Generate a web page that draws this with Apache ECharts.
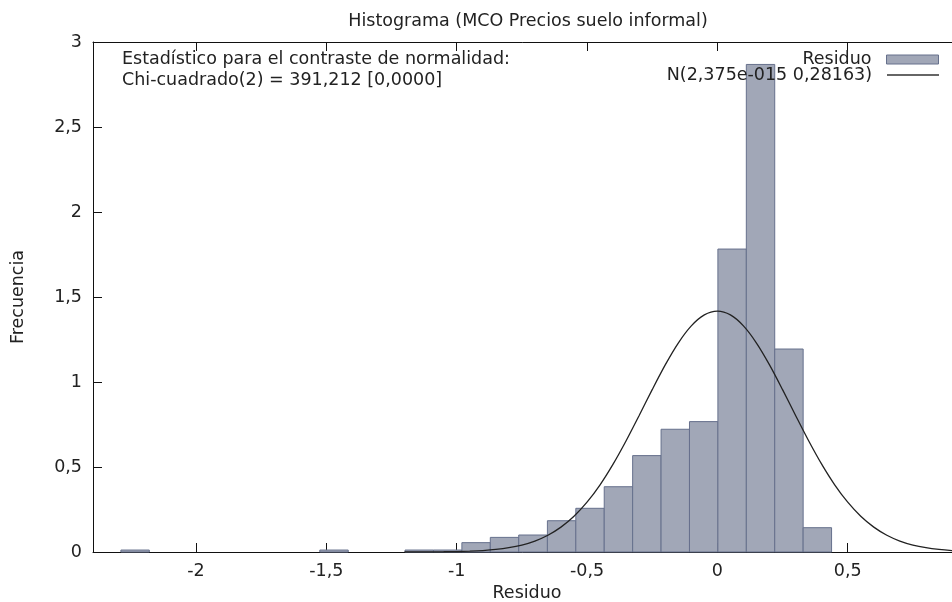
<!DOCTYPE html>
<html>
<head>
<meta charset="utf-8">
<script src="https://cdn.jsdelivr.net/npm/echarts@6/dist/echarts.min.js"></script>
<style>html,body{margin:0;padding:0;background:#fff;}#c{width:952px;height:602px;}</style>
</head>
<body>
<div id="c"></div>
<script>
// ---- Data ----
const binLeft = [-2.288,-2.179,-2.070,-1.961,-1.852,-1.743,-1.634,-1.525,-1.416,-1.307,-1.198,-1.089,-0.980,-0.871,-0.762,-0.652,-0.543,-0.434,-0.325,-0.216,-0.107,0.002,0.111,0.220,0.329];
const binRight = [-2.179,-2.070,-1.961,-1.852,-1.743,-1.634,-1.525,-1.416,-1.307,-1.198,-1.089,-0.980,-0.871,-0.762,-0.652,-0.543,-0.434,-0.325,-0.216,-0.107,0.002,0.111,0.220,0.329,0.438];
const freq = [0.0115,0,0,0,0,0,0,0.0115,0,0,0.0115,0.0115,0.055,0.086,0.100,0.184,0.257,0.384,0.567,0.722,0.767,1.782,2.868,1.194,0.143];
const curveX = [-1.2,-1.15,-1.1,-1.05,-1,-0.95,-0.9,-0.85,-0.8,-0.75,-0.7,-0.65,-0.6,-0.55,-0.5,-0.45,-0.4,-0.35,-0.3,-0.25,-0.2,-0.15,-0.1,-0.05,0,0.05,0.1,0.15,0.2,0.25,0.3,0.35,0.4,0.45,0.5,0.55,0.6,0.65,0.7,0.75,0.8,0.85,0.9,0.95];
const curveY = [0.0002,0.0003,0.0007,0.0014,0.0026,0.0048,0.0086,0.0149,0.0251,0.0409,0.0646,0.0988,0.1464,0.2104,0.2930,0.3952,0.5167,0.6544,0.8033,0.9553,1.1009,1.2293,1.3301,1.3945,1.4166,1.3945,1.3301,1.2293,1.1009,0.9553,0.8033,0.6544,0.5167,0.3952,0.2930,0.2104,0.1464,0.0988,0.0646,0.0409,0.0251,0.0149,0.0086,0.0048];
const xTicks = [-2,-1.5,-1,-0.5,0,0.5];
const yTicks = [0,0.5,1,1.5,2,2.5,3];
const seriesNames = ['Residuo','N(2,375e-015 0,28163)'];
const titleText = 'Histograma (MCO Precios suelo informal)';
const noteLines = ['Estadístico para el contraste de normalidad:','Chi-cuadrado(2) = 391,212 [0,0000]'];

const FONT = 'DejaVu Sans';
const FS = 17.5;
const TXT = '#222';
const fmt = v => String(Math.round(v*100)/100).replace('.', ',');
const barData = binLeft.map((l,i) => [l, binRight[i], freq[i]]).filter(d => d[2] > 0);
const lineData = curveX.map((x,i) => [x, curveY[i]]);

const chart = echarts.init(document.getElementById('c'), null, {renderer:'canvas'});
const X_MIN = -2.395, X_MAX = 0.9345;
const axisLineStyle = {color:'#111', width:1};
chart.setOption({
  animation:false,
  backgroundColor:'#fff',
  textStyle:{fontFamily:FONT},
  grid:{left:93, top:42, width:868, height:510, containLabel:false, outerBoundsMode:'none'},
  xAxis:[{
    type:'value', min:X_MIN, max:X_MAX, position:'bottom',
    name:'Residuo', nameLocation:'middle', nameGap:32,
    nameTextStyle:{fontFamily:FONT, fontSize:FS, color:TXT},
    axisLine:{show:true, onZero:false, lineStyle:axisLineStyle},
    axisTick:{show:true, inside:true, length:9, customValues:xTicks, lineStyle:axisLineStyle},
    axisLabel:{show:true, customValues:xTicks, formatter:fmt, margin:10, fontFamily:FONT, fontSize:FS, color:TXT},
    splitLine:{show:false}
  },{
    type:'value', min:X_MIN, max:X_MAX, position:'top',
    axisLine:{show:true, onZero:false, lineStyle:axisLineStyle},
    axisTick:{show:true, inside:true, length:9, customValues:xTicks, lineStyle:axisLineStyle},
    axisLabel:{show:false}, splitLine:{show:false}
  }],
  yAxis:[{
    type:'value', min:0, max:3, interval:0.5, position:'left',
    name:'Frecuencia', nameLocation:'middle', nameGap:66,
    nameTextStyle:{fontFamily:FONT, fontSize:FS, color:TXT},
    axisLine:{show:true, onZero:false, lineStyle:axisLineStyle},
    axisTick:{show:true, inside:true, length:9, lineStyle:axisLineStyle},
    axisLabel:{show:true, formatter:fmt, margin:11, fontFamily:FONT, fontSize:FS, color:TXT},
    splitLine:{show:false}
  },{
    type:'value', min:0, max:3, interval:0.5, position:'right',
    axisLine:{show:true, onZero:false, lineStyle:axisLineStyle},
    axisTick:{show:true, inside:true, length:9, lineStyle:axisLineStyle},
    axisLabel:{show:false}, splitLine:{show:false}
  }],
  legend:[{
    data:[{name:seriesNames[0], icon:'rect', itemStyle:{color:'#a1a7b7', borderColor:'#66708c', borderWidth:1}}],
    right:13, top:50.5, padding:0, align:'right', itemWidth:52, itemHeight:9,
    textStyle:{fontFamily:FONT, fontSize:FS, color:TXT, padding:[0,10,0,0]}, selectedMode:false
  },{
    data:[{name:seriesNames[1], icon:'rect', itemStyle:{color:'#333'}}],
    right:13, top:66, padding:0, align:'right', itemWidth:52, itemHeight:1.5,
    textStyle:{fontFamily:FONT, fontSize:FS, color:TXT, padding:[0,10,0,0]}, selectedMode:false
  }],
  graphic:[
    {type:'text', x:528, y:21, style:{text:titleText, align:'center', verticalAlign:'middle', fontFamily:FONT, fontSize:FS, fill:TXT}},
    {type:'text', x:122, y:49, style:{text:noteLines.join('\n'), align:'left', verticalAlign:'top', fontFamily:FONT, fontSize:FS, lineHeight:21, fill:TXT}}
  ],
  series:[{
    type:'custom', name:seriesNames[0], xAxisIndex:0, yAxisIndex:0,
    encode:{x:[0,1], y:2},
    data:barData,
    itemStyle:{color:'#a1a7b7'},
    renderItem:function(params, api){
      const p0 = api.coord([api.value(0), api.value(2)]);
      const p1 = api.coord([api.value(1), 0]);
      return {type:'rect', shape:{x:p0[0], y:p0[1], width:p1[0]-p0[0], height:p1[1]-p0[1]},
        style:{fill:'#a1a7b7', stroke:'#66708c', lineWidth:1}};
    },
    z:2
  },{
    type:'line', name:seriesNames[1], xAxisIndex:0, yAxisIndex:0,
    data:lineData, smooth:0.3, showSymbol:false, clip:true,
    lineStyle:{color:'#222', width:1.3}, itemStyle:{color:'#333'}, z:3
  }]
});
</script>
</body>
</html>
